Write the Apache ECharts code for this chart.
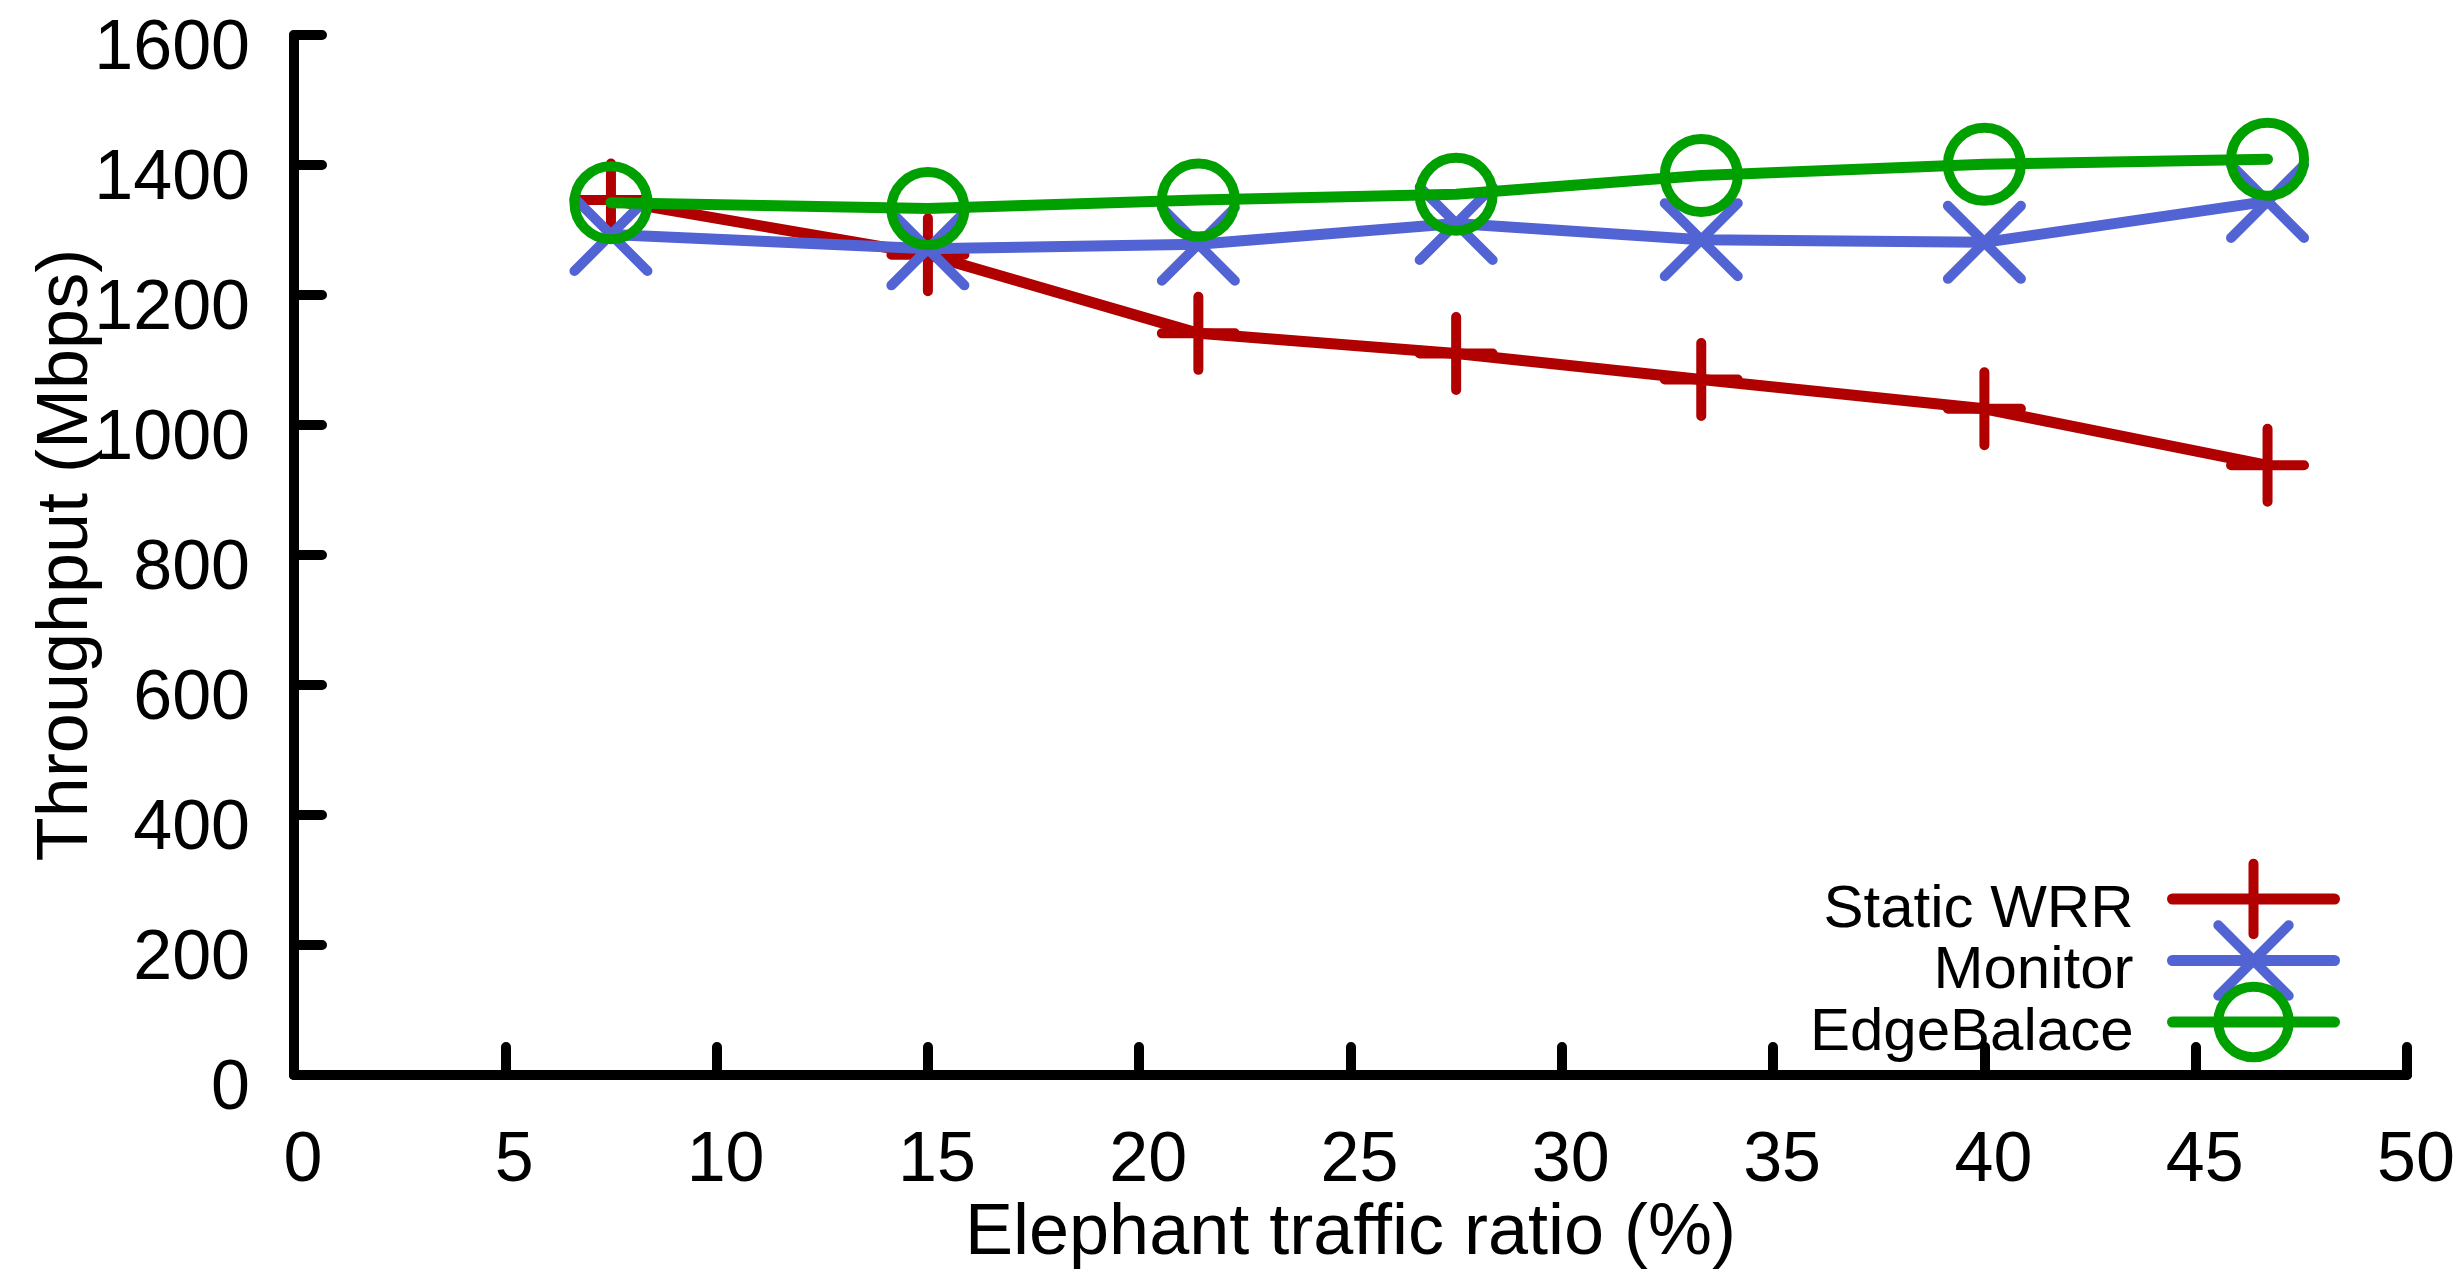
<!DOCTYPE html>
<html>
<head>
<meta charset="utf-8">
<script src="https://cdn.jsdelivr.net/npm/echarts@6/dist/echarts.min.js"></script>
<style>
html,body{margin:0;padding:0;background:#fff;}
#chart{width:2459px;height:1269px;}
</style>
</head>
<body>
<div id="chart"></div>
<script>
// ---- data ----
const xValues = [7.5, 15, 21.4, 27.5, 33.3, 40, 46.7];
const staticWRR = [1346, 1262, 1141, 1110, 1070, 1025, 938];
const monitor = [1293, 1271, 1278, 1310, 1285, 1281, 1344];
const edgeBalace = [1342, 1333, 1346, 1355, 1384, 1401, 1409];
const seriesNames = ['Static WRR', 'Monitor', 'EdgeBalace'];
const xTicks = [0, 5, 10, 15, 20, 25, 30, 35, 40, 45, 50];
const yTicks = [0, 200, 400, 600, 800, 1000, 1200, 1400, 1600];

const COLORS = ['#b00000', '#5263d3', '#00a000'];
const PLUS = 'path://M0,-1 L0,1 M-1,0 L1,0';
const CROSS = 'path://M-1,-1 L1,1 M-1,1 L1,-1';
const CIRC = 'path://M1,0 A1,1 0 1,1 -1,0 A1,1 0 1,1 1,0 Z';
const SYMBOLS = [PLUS, CROSS, CIRC];
const FONT = 'Liberation Sans';

function pairs(ys) { return xValues.map((x, i) => [x, ys[i]]); }
const allY = [staticWRR, monitor, edgeBalace];

const chart = echarts.init(document.getElementById('chart'), null, {renderer: 'canvas'});
chart.setOption({
  animation: false,
  backgroundColor: '#ffffff',
  grid: {left: 294, right: 52, top: 35, bottom: 194, containLabel: false, outerBoundsMode: 'none'},
  xAxis: {
    type: 'value', min: xTicks[0], max: xTicks[xTicks.length - 1], interval: 5,
    name: 'Elephant traffic ratio (%)', nameLocation: 'middle', nameGap: 123, nameMoveOverlap: false,
    nameTextStyle: {fontFamily: FONT, fontSize: 72, color: '#000'},
    axisLine: {show: true, lineStyle: {color: '#000', width: 10, cap: 'round'}},
    axisTick: {show: true, inside: true, length: 28, lineStyle: {color: '#000', width: 10, cap: 'round'}},
    axisLabel: {margin: 52, fontFamily: FONT, fontSize: 70, color: '#000', padding: [0, 0, 0, 18],
      formatter: v => String(v)},
    splitLine: {show: false}
  },
  yAxis: {
    type: 'value', min: yTicks[0], max: yTicks[yTicks.length - 1], interval: 200,
    name: 'Throughput (Mbps)', nameLocation: 'middle', nameGap: 191, nameRotate: 90, nameMoveOverlap: false,
    nameTextStyle: {fontFamily: FONT, fontSize: 72, color: '#000'},
    axisLine: {show: true, lineStyle: {color: '#000', width: 10, cap: 'round'}},
    axisTick: {show: true, inside: true, length: 28, lineStyle: {color: '#000', width: 10, cap: 'round'}},
    axisLabel: {margin: 44, fontFamily: FONT, fontSize: 70, color: '#000', lineHeight: 30,
      formatter: v => '\n' + v},
    splitLine: {show: false}
  },
  legend: {
    orient: 'vertical', align: 'right', right: 114, top: 853,
    itemWidth: 162, itemHeight: 88, itemGap: -20.5,
    selectedMode: false,
    formatter: name => '\n' + name,
    textStyle: {fontFamily: FONT, fontSize: 60, color: '#000', lineHeight: 22, padding: [0, 34, 0, 0]},
    data: seriesNames.map((n, i) => ({
      name: n,
      itemStyle: {color: 'rgba(0,0,0,0)', borderColor: COLORS[i], borderWidth: 10, borderCap: 'round'},
      lineStyle: {color: COLORS[i], width: 11, cap: 'round'}
    }))
  },
  series: seriesNames.map((n, i) => ({
    name: n,
    type: 'line',
    z: 2 + i,
    data: pairs(allY[i]),
    symbol: SYMBOLS[i],
    symbolSize: 73,
    showAllSymbol: true,
    lineStyle: {color: COLORS[i], width: 11, cap: 'round', join: 'round'},
    itemStyle: {color: 'rgba(0,0,0,0)', borderColor: COLORS[i], borderWidth: 10, borderCap: 'round'},
    emphasis: {disabled: true}
  }))
});
</script>
</body>
</html>
